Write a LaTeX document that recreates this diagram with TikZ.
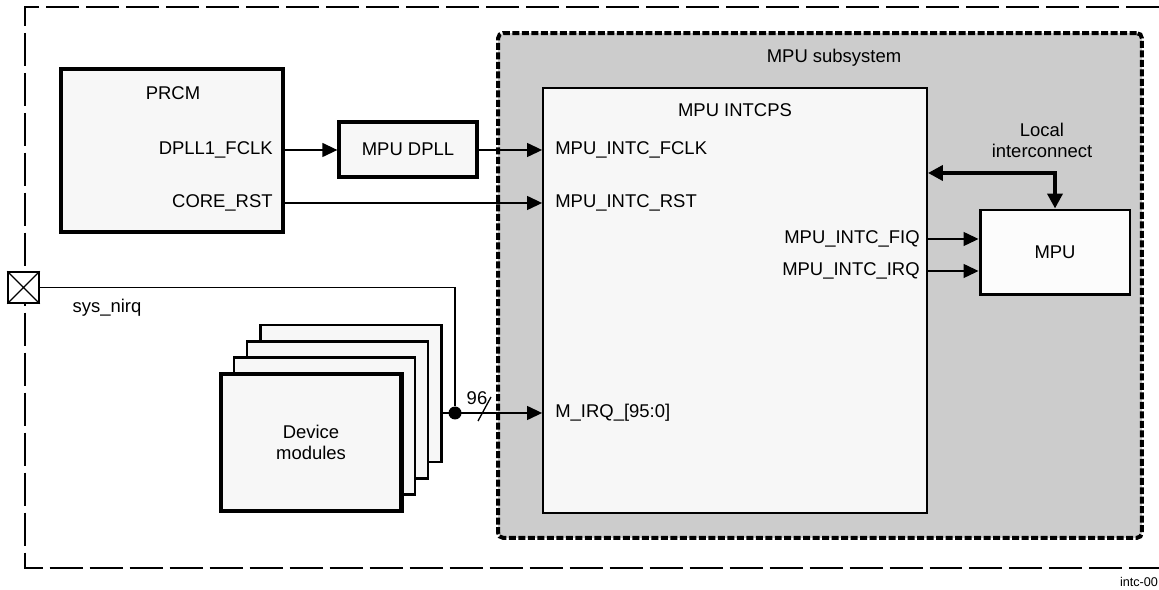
\documentclass[tikz,border=0pt]{standalone}
\usepackage{fontspec}
\setmainfont{Liberation Sans}
\usepackage{tikz}
\usetikzlibrary{positioning,arrows.meta,calc}

\definecolor{subgray}{gray}{0.80}
\definecolor{boxfill}{gray}{0.97}

\begin{document}
\begin{tikzpicture}[
  x=0.02cm, y=-0.02cm,
  font=\fontsize{10.5}{12}\selectfont,
  >={Triangle[length=0.3cm,width=0.28cm]},
  blk/.style={draw=black, fill=boxfill, line width=1.1pt, inner sep=0pt},
  heavyblk/.style={blk, line width=1.9pt},
  portlbl/.style={inner sep=0pt},
  sigline/.style={->, draw=black, line width=0.75pt},
  lanebus/.style={{Triangle[length=0.3cm,width=0.3cm]}-{Triangle[length=0.3cm,width=0.3cm]}, draw=black, line width=2.2pt}
]
  \useasboundingbox (0,0) rectangle (1159,590);

  % outer chip boundary (open to the right)
  \draw[line width=1.4pt, dash pattern=on 0.66cm off 0.14cm] (1159,7) -- (25,7) -- (25,568) -- (1159,568);

  % MPU subsystem
  \node[draw=black, fill=subgray, line width=2.3pt, dash pattern=on 0.14cm off 0.05cm,
        rounded corners=3pt, minimum width=12.88cm, minimum height=10.1cm] (subsys) at (820,285.5) {};
  \node[portlbl] (subsyslbl) at (834,58) {MPU subsystem};

  % blocks
  \node[heavyblk, minimum width=4.44cm, minimum height=3.26cm] (prcm) at (172,150.5) {};
  \node[portlbl] (prcmlbl) at (173,93) {PRCM};
  \node[portlbl, anchor=east] (fclk) at (273,150) {DPLL1\_FCLK};
  \node[portlbl, anchor=east] (corerst) at (273,203) {CORE\_RST};

  \node[heavyblk, minimum width=2.76cm, minimum height=1.1cm] (dpll) at (408,149.5) {MPU DPLL};

  \node[blk, minimum width=7.68cm, minimum height=8.5cm] (intcps) at (735,300.5) {};
  \node[portlbl] (intcpslbl) at (735,110) {MPU INTCPS};
  \node[portlbl, anchor=west] (infclk) at (555,150) {MPU\_INTC\_FCLK};
  \node[portlbl, anchor=west] (inrst) at (555,203) {MPU\_INTC\_RST};
  \node[portlbl, anchor=west] (inirq) at (555,413) {M\_IRQ\_[95:0]};
  \node[portlbl, anchor=east] (outfiq) at (920,239) {MPU\_INTC\_FIQ};
  \node[portlbl, anchor=east] (outirq) at (920,271) {MPU\_INTC\_IRQ};

  \node[blk, line width=1.7pt, fill=white!60!boxfill, minimum width=3cm, minimum height=1.7cm] (mpu) at (1055,252.5) {MPU};
  \node[portlbl, align=center] (liclbl) at (1042,140) {Local\\interconnect};
  \coordinate (lic) at (1055,173);

  % device modules stack, back to front
  \foreach \i/\lw in {3/1.4pt,2/1.4pt,1/1.4pt,0/2.3pt}
    \node[blk, line width=\lw, minimum width=3.62cm, minimum height=2.74cm] (dev\i) at ($(311,442.5)+\i*(13.3,-16.3)$) {};
  \node[portlbl, align=center] (devlbl) at (dev0) {Device\\modules};

  % sys_nirq pad
  \node[draw=black, fill=white, line width=0.8pt, minimum size=0.62cm, inner sep=0pt] (pad) at (23.5,287.5) {};
  \draw[line width=0.8pt] (pad.north west) -- (pad.south east) (pad.north east) -- (pad.south west);
  \node[portlbl] (padlbl) at (107,308) {sys\_nirq};
  \node[circle, fill=black, minimum size=0.26cm, inner sep=0pt] (tap) at (455,413) {};

  % connections
  \draw[sigline] (prcm.east |- fclk) -- (dpll.west |- fclk);
  \draw[sigline] (dpll.east |- infclk) -- (intcps.west |- infclk);
  \draw[sigline] (prcm.east |- corerst) -- (intcps.west |- inrst);
  \draw[line width=0.75pt] (pad.east) -| (tap);
  \draw[sigline] (dev3.east |- tap) -- (intcps.west |- tap);
  \draw[line width=0.75pt] (478,421) -- (491,397);
  \node[portlbl] (buswidth) at (477,398) {96};
  \draw[sigline] (intcps.east |- outfiq) -- (mpu.west |- outfiq);
  \draw[sigline] (intcps.east |- outirq) -- (mpu.west |- outirq);
  \draw[lanebus] (intcps.east |- lic) -| (mpu.north);

  \node[portlbl, font=\fontsize{7.2}{8}\selectfont] (figid) at (1139,582) {intc-00};
\end{tikzpicture}
\end{document}
